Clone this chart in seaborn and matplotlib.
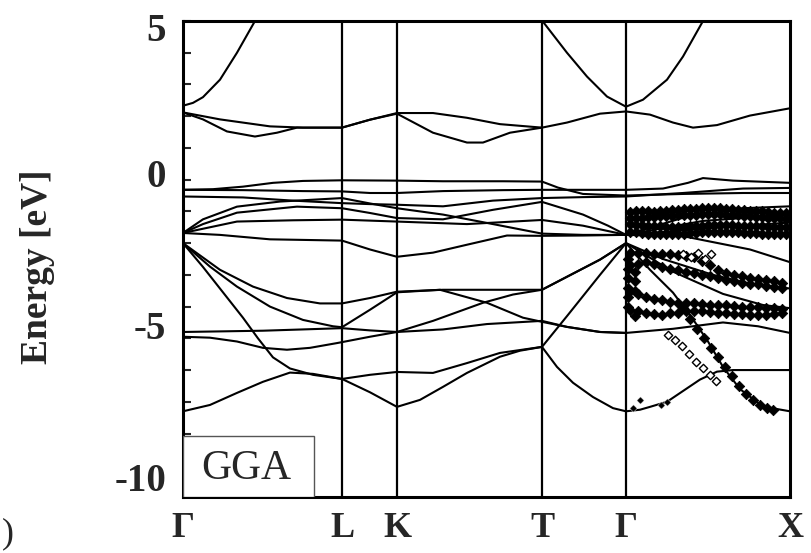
import pandas as pd
import seaborn as sns
import matplotlib.pyplot as plt
from matplotlib.patches import Rectangle
from matplotlib.ticker import MultipleLocator
from matplotlib.transforms import ScaledTranslation

# k-path (path length) and symmetry point labels
kpoints = [0, 159, 214, 359, 443, 607]
klabels = ["Γ", "L", "K", "T", "Γ", "X"]

# GGA bands, (k, E [eV]) read along the path
cb1 = [(0, 2.33), (10, 2.42), (20, 2.6), (37, 3.15), (54, 4.0), (72, 5.0), (80, 5.5)]
cb2 = [(0, 2.12), (37, 1.9), (87, 1.68), (120, 1.64), (159, 1.64), (187, 1.89), (214, 2.1),
       (250, 2.1), (284, 1.95), (317, 1.75), (359, 1.64), (384, 1.8), (417, 2.08), (443, 2.15),
       (467, 2.05), (490, 1.8), (510, 1.64), (534, 1.72), (567, 2.02), (607, 2.25)]
cb3 = [(0, 2.12), (20, 1.9), (44, 1.52), (72, 1.36), (94, 1.48), (114, 1.64), (159, 1.64),
       (187, 1.89), (214, 2.08), (250, 1.48), (284, 1.17), (300, 1.17), (327, 1.48), (359, 1.64)]
cb4 = [(357, 5.1), (384, 4.0), (404, 3.25), (424, 2.62), (443, 2.3), (460, 2.52), (484, 3.15),
       (500, 3.88), (520, 5.0), (525, 5.3)]

u1 = [(0, -0.32), (30, -0.3), (60, -0.22), (90, -0.1), (120, -0.04), (159, -0.02), (214, -0.03),
      (260, -0.05), (320, -0.05), (359, -0.06), (375, -0.25), (400, -0.45), (443, -0.5),
      (500, -0.45), (560, -0.42), (607, -0.42)]
u2 = [(0, -0.32), (60, -0.33), (120, -0.36), (159, -0.37), (187, -0.42), (214, -0.42),
      (260, -0.36), (320, -0.33), (359, -0.32), (400, -0.32), (443, -0.32), (480, -0.28),
      (505, -0.1), (520, 0.05), (550, -0.03), (607, -0.1)]
u3 = [(0, -0.53), (60, -0.56), (110, -0.66), (159, -0.74), (187, -0.77), (214, -0.79),
      (260, -0.84), (310, -0.66), (359, -0.58), (400, -0.55), (443, -0.53), (500, -0.42),
      (560, -0.28), (607, -0.26)]
u4 = [(0, -1.68), (20, -1.25), (54, -0.85), (97, -0.69), (159, -0.58), (187, -0.75), (214, -0.9),
      (260, -1.1), (310, -1.4), (359, -1.7), (400, -1.74), (443, -1.74), (500, -1.2),
      (560, -0.9), (607, -0.84)]
u5 = [(0, -1.68), (20, -1.4), (54, -1.04), (114, -0.85), (159, -0.9), (187, -1.05), (214, -1.21),
      (260, -1.25), (310, -0.95), (359, -0.7), (400, -1.1), (425, -1.45), (443, -1.74),
      (520, -1.3), (607, -1.1)]
u6 = [(0, -1.68), (54, -1.32), (110, -1.28), (159, -1.26), (214, -1.32), (284, -1.4),
      (359, -1.27), (400, -1.45), (443, -1.74), (540, -1.5), (607, -1.35)]

vb5 = [(0, -1.68), (37, -1.74), (87, -1.88), (159, -1.92), (187, -2.2), (214, -2.43), (250, -2.3),
       (284, -2.05), (324, -1.76), (359, -1.77), (400, -1.76), (443, -1.74), (500, -1.78),
       (567, -2.2), (607, -2.6)]
vb4 = [(0, -2.0), (37, -2.84), (70, -3.37), (104, -3.73), (137, -3.9), (159, -3.9), (187, -3.73),
       (214, -3.53), (260, -3.47), (320, -3.47), (359, -3.47), (384, -3.06), (417, -2.52),
       (443, -2.0), (490, -2.9), (540, -3.6), (580, -3.95), (607, -4.05)]
vb3 = [(0, -2.0), (27, -2.74), (54, -3.37), (87, -4.0), (120, -4.42), (150, -4.62), (159, -4.65),
       (187, -4.1), (214, -3.55), (257, -3.47), (304, -3.88), (340, -4.35), (359, -4.48),
       (384, -4.64), (417, -4.8), (443, -4.83), (490, -4.7), (540, -4.5), (575, -4.62), (607, -4.83)]
vb6 = [(0, -4.95), (27, -4.98), (54, -5.1), (80, -5.3), (104, -5.36), (127, -5.3), (154, -5.15),
       (159, -5.12), (187, -4.95), (214, -4.8), (250, -4.45), (300, -3.88), (330, -3.62),
       (359, -3.47), (384, -3.06), (417, -2.52), (443, -2.0), (480, -2.5), (530, -3.0),
       (570, -3.3), (607, -3.43)]
vb7 = [(0, -4.8), (80, -4.76), (159, -4.68), (187, -4.75), (214, -4.8), (260, -4.72),
       (304, -4.55), (359, -4.45), (384, -4.64), (417, -4.8), (443, -4.83)]
vb2 = [(0, -2.0), (20, -2.75), (40, -3.55), (60, -4.35), (75, -5.0), (90, -5.6), (107, -5.95),
       (130, -6.15), (159, -6.28), (187, -6.15), (214, -6.06), (250, -6.09), (284, -5.78),
       (317, -5.46), (359, -5.27), (384, -4.3), (417, -3.0), (443, -2.0), (467, -2.84),
       (490, -3.56), (510, -4.4), (525, -5.1), (540, -5.9), (557, -6.6), (580, -7.15), (607, -7.3)]
vb1 = [(0, -7.3), (27, -7.1), (54, -6.72), (80, -6.37), (107, -6.08), (130, -6.12), (159, -6.28),
       (187, -6.7), (214, -7.16), (237, -6.94), (260, -6.53), (284, -6.09), (317, -5.58),
       (337, -5.39), (359, -5.27), (374, -5.9), (390, -6.4), (410, -6.85), (430, -7.2),
       (443, -7.3), (457, -7.25), (467, -7.16), (484, -7.0), (517, -6.3), (534, -6.05),
       (550, -6.0), (607, -6.0)]

# experimental points along Gamma-X
exp_k_a = [447, 453, 459, 465, 471, 477, 483, 489, 495, 501, 507, 513, 519, 525, 531, 537, 543,
           549, 555, 561, 567, 573, 579, 585, 591, 597, 603]
exp_a1 = [-1.02, -1.0, -0.98, -1.0, -1.02, -1.0, -0.98, -0.96, -0.95, -0.94, -0.93, -0.92, -0.9,
          -0.9, -0.9, -0.9, -0.92, -0.93, -0.95, -0.96, -0.98, -1.0, -1.0, -1.02, -1.04, -1.05, -1.06]
exp_a2 = [-1.22, -1.2, -1.2, -1.18, -1.18, -1.16, -1.15, -1.14, -1.12, -1.12, -1.1, -1.1, -1.08,
          -1.08, -1.08, -1.08, -1.1, -1.1, -1.12, -1.14, -1.15, -1.17, -1.18, -1.2, -1.2, -1.22, -1.24]
exp_a3 = [-1.4, -1.42, -1.44, -1.45, -1.46, -1.47, -1.48, -1.48, -1.48, -1.48, -1.47, -1.46, -1.45,
          -1.44, -1.44, -1.43, -1.43, -1.44, -1.45, -1.45, -1.46, -1.47, -1.47, -1.48, -1.48, -1.5, -1.5]
exp_a4 = [-1.65, -1.66, -1.68, -1.7, -1.7, -1.72, -1.72, -1.72, -1.7, -1.7, -1.68, -1.67, -1.66,
          -1.65, -1.64, -1.64, -1.65, -1.66, -1.66, -1.67, -1.68, -1.68, -1.7, -1.7, -1.7, -1.72, -1.72]

exp_k_b = [447, 455, 463, 471, 479, 487, 495, 503, 511, 519, 527, 535, 543, 551, 559, 567, 575,
           583, 591, 599]
exp_b1 = [-2.3, -2.3, -2.32, -2.33, -2.35, -2.35, -2.38, -2.4, -2.45, -2.55, -2.7, -2.85, -2.95,
          -3.0, -3.05, -3.1, -3.12, -3.15, -3.2, -3.25]
exp_b2 = [-2.7, -2.65, -2.6, -2.65, -2.75, -2.8, -2.85, -2.9, -2.95, -3.0, -3.05, -3.1, -3.15,
          -3.2, -3.25, -3.28, -3.3, -3.35, -3.38, -3.4]
exp_b3 = [-3.5, -3.6, -3.7, -3.75, -3.8, -3.85, -3.88, -3.9, -3.9, -3.92, -3.95, -3.95, -3.95,
          -3.98, -4.0, -4.0, -4.02, -4.05, -4.05, -4.08]
exp_b4 = [-4.1, -4.15, -4.2, -4.22, -4.25, -4.2, -4.2, -4.15, -4.15, -4.15, -4.18, -4.2, -4.2,
          -4.22, -4.22, -4.25, -4.25, -4.25, -4.22, -4.2]

exp_k_c = [445, 445, 445, 445, 445, 445, 452, 452, 452, 452, 500, 507, 514, 521, 528, 535, 542,
           549, 556, 563, 570, 577, 584, 590]
exp_c = [-2.5, -2.8, -3.1, -3.4, -3.7, -4.0, -2.9, -3.2, -3.5, -4.3, -4.05, -4.4, -4.7, -5.0,
         -5.3, -5.6, -5.9, -6.2, -6.5, -6.75, -6.95, -7.1, -7.2, -7.25]
dots_k = [450, 457, 478, 484]
dots_e = [-7.2, -6.95, -7.1, -7.0]

open_k = [485, 492, 499, 506, 513, 520, 527, 533, 500, 508, 515, 522, 528]
open_e = [-4.9, -5.05, -5.25, -5.5, -5.75, -5.95, -6.15, -6.35, -2.35, -2.45, -2.3, -2.5, -2.35]

bands = {"cb1": cb1, "cb2": cb2, "cb3": cb3, "cb4": cb4, "u1": u1, "u2": u2, "u3": u3,
         "u4": u4, "u5": u5, "u6": u6, "vb1": vb1, "vb2": vb2, "vb3": vb3, "vb4": vb4,
         "vb5": vb5, "vb6": vb6, "vb7": vb7}
df = pd.DataFrame([(name, k, e) for name, pts in bands.items() for k, e in pts],
                  columns=["band", "k", "E"])

exp_rows = []
for ks, es in [(exp_k_a, exp_a1), (exp_k_a, exp_a2), (exp_k_a, exp_a3), (exp_k_a, exp_a4),
               (exp_k_b, exp_b1), (exp_k_b, exp_b2), (exp_k_b, exp_b3), (exp_k_b, exp_b4),
               (exp_k_c, exp_c)]:
    exp_rows += list(zip(ks, es))
exp_df = pd.DataFrame(exp_rows, columns=["k", "E"])
dots_df = pd.DataFrame({"k": dots_k, "E": dots_e})
open_df = pd.DataFrame({"k": open_k, "E": open_e})

sns.set_style("ticks")
plt.rcParams['font.family'] = ['Liberation Serif', 'DejaVu Serif']

fig = plt.figure(figsize=(8.11, 5.53), dpi=100)
ax = fig.add_axes([0.2256, 0.1013, 0.7485, 0.8607])

sns.lineplot(data=df, x="k", y="E", units="band", estimator=None, sort=False,
             color="black", lw=1.5, ax=ax, legend=False)
sns.scatterplot(data=exp_df, x="k", y="E", marker="D", s=28, color="black",
                edgecolor="black", linewidth=0.6, ax=ax, legend=False, zorder=3)
sns.scatterplot(data=dots_df, x="k", y="E", marker="D", s=14, color="black",
                ax=ax, legend=False, zorder=3)
sns.scatterplot(data=open_df, x="k", y="E", marker="D", s=18, facecolor="white",
                edgecolor="black", linewidth=1.0, ax=ax, legend=False, zorder=4)

for kp in kpoints[1:-1]:
    ax.axvline(kp, color="black", lw=1.6, zorder=2)

ax.set_xlim(0, 607)
ax.set_ylim(-10, 5)
ax.set_xlabel("")
ax.set_ylabel("")

for sp in ax.spines.values():
    sp.set_linewidth(2.2)
    sp.set_color("black")

ax.set_xticks(kpoints)
ax.set_xticklabels(klabels, fontsize=26, fontweight="bold")
ax.tick_params(axis="x", length=0, pad=11)

ax.set_yticks([5, 0, -5, -10])
ax.set_yticklabels(["5", "0", "-5", "-10"], fontsize=28, fontweight="bold")
ax.yaxis.set_minor_locator(MultipleLocator(1))
ax.tick_params(axis="y", which="both", direction="in", length=6, width=1.5, pad=12)

# labels sit a little inside their ticks in the original
for lab, dy in zip(ax.get_yticklabels(), [-0.06, 0.07, 0.135, 0.2]):
    lab.set_transform(lab.get_transform() + ScaledTranslation(0, dy, fig.dpi_scale_trans))

ax.add_patch(Rectangle((0, -10), 131, 1.92, facecolor="white", edgecolor="#555555",
                       lw=1.0, zorder=5))
ax.text(63, -9.1, "GGA", fontsize=30, ha="center", va="center", zorder=6)

fig.text(0.046, 0.517, "Energy [eV]", rotation=90, ha="center", va="center",
         fontsize=27, fontweight="bold")
fig.text(0.002, 0.004, ")", fontsize=26, ha="left", va="bottom")

fig.savefig("out.png", dpi=100)
